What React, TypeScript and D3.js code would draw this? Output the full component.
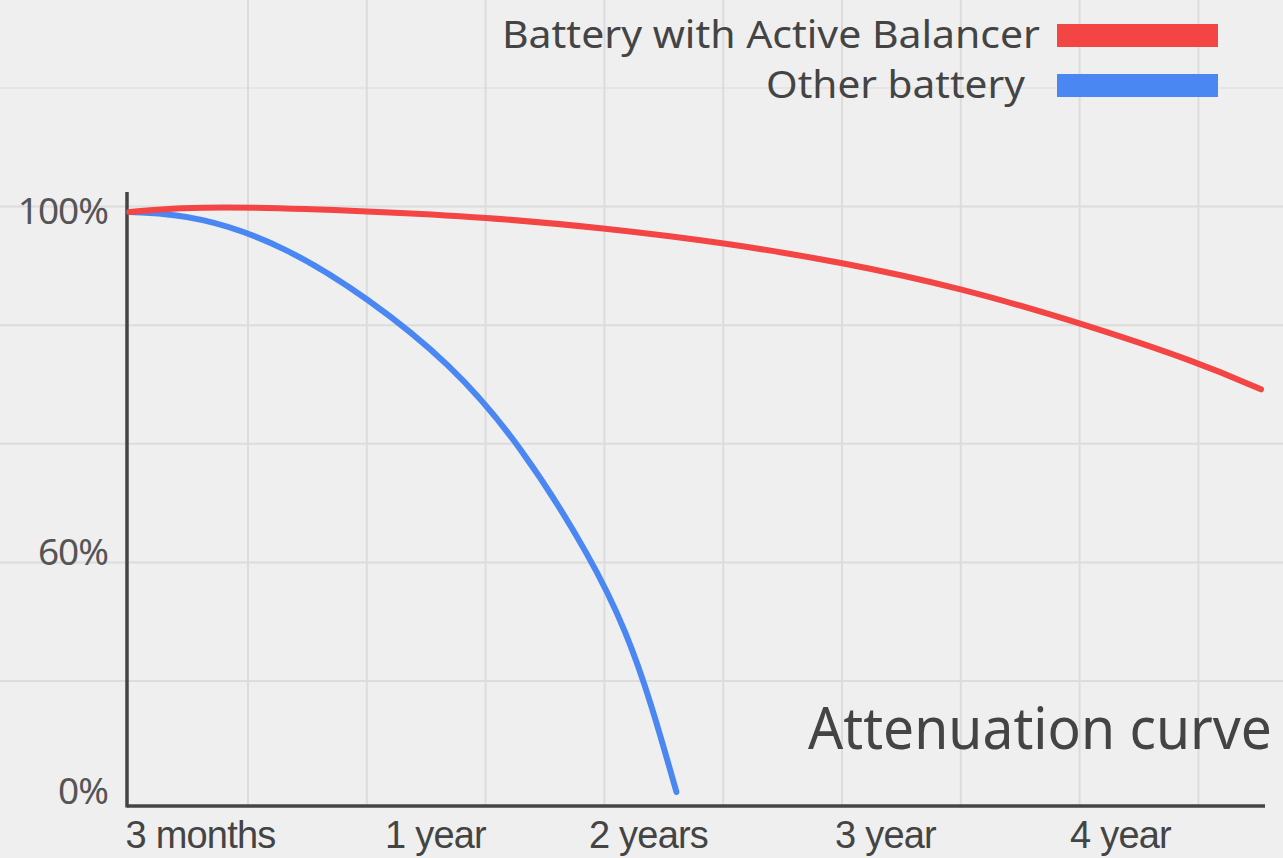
import React, { useRef, useEffect } from 'react';
import * as d3 from 'd3';

const xLabels = ['3 months', '1 year', '2 years', '3 year', '4 year'];
const yTicks = [0, 60, 100];
const seriesNames = ['Battery with Active Balancer', 'Other battery'];
const seriesColors = ['#f44545', '#4a87f2'];

// x = position on the time axis in label steps (0 = 3 months, 1 = 1 year, ...)
const balancerX = [-0.3, -0.09, 0.2, 0.71, 1.24, 1.8, 2.32, 2.82, 3.32, 3.83, 4.34, 4.6];
const balancerY = [100, 100.5, 100.6, 100.1, 99.4, 98.1, 96.4, 94.1, 91.1, 87.0, 82.3, 79.2];
const otherX = [-0.3, 0, 0.37, 0.71, 1.07, 1.4, 1.74, 1.9, 2.01, 2.12];
const otherY = [100, 99.6, 95.9, 90.0, 82.3, 72.8, 58.2, 40, 23, 0];

// squeeze a text horizontally so it is `w` px wide, anchored at its left or right edge
const fitText = (sel: any, left: number, baseline: number, w: number, anchorEnd: boolean) => {
	const natural = sel.node().getComputedTextLength() || w
	const k = w / natural
	const tx = anchorEnd ? left - w : left
	sel.attr('text-anchor', 'start')
		.attr('transform', 'translate(' + tx + ',' + baseline + ') scale(' + k + ',1)')
}

const App = () => {
	const chart = useRef<SVGSVGElement>(null)

	useEffect(() => {
		const width = 1283
		const height = 858
		const svg = d3.select(chart.current)
		svg.selectAll('*').remove()

		svg.append('rect')
			.attr('width', width)
			.attr('height', height)
			.attr('fill', '#efefef')

		// the picture stretches the axes, so both scales are piecewise
		const x = d3.scaleLinear()
			.domain([0, 1, 2, 3, 4])
			.range([200, 435, 648, 885, 1120])
		const y = d3.scaleLinear()
			.domain([0, 60, 100])
			.range([792, 553, 212])

		const axisX = 127
		const axisY = 806

		// background grid
		const grid = svg.append('g')
			.attr('stroke', '#dcdcdc')
			.attr('stroke-width', 2)
		d3.range(248, width, 118.8).forEach(gx => {
			grid.append('line')
				.attr('x1', gx).attr('x2', gx)
				.attr('y1', 0).attr('y2', axisY)
		})
		d3.range(88, axisY - 20, 118.6).forEach(gy => {
			grid.append('line')
				.attr('x1', 0).attr('x2', width)
				.attr('y1', gy).attr('y2', gy)
				.attr('opacity', gy < 150 ? 0.5 : 1)
		})

		// x labels
		const xAxis = svg.append('g')
			.attr('transform', 'translate(0,' + axisY + ')')
			.call(d3.axisBottom(x)
				.tickValues(d3.range(xLabels.length))
				.tickFormat((i: any) => xLabels[i])
				.tickSize(0)
				.tickPadding(15))
		xAxis.select('.domain').remove()
		xAxis.selectAll('text')
			.attr('font-family', '"Liberation Sans", Arial, sans-serif')
			.attr('font-size', 38)
			.attr('letter-spacing', -0.8)
			.attr('fill', '#444')

		// y labels
		const yAxis = svg.append('g')
			.attr('transform', 'translate(' + axisX + ',0)')
			.call(d3.axisLeft(y)
				.tickValues(yTicks)
				.tickFormat((d: any) => d + '%')
				.tickSize(0)
				.tickPadding(19))
		yAxis.select('.domain').remove()
		yAxis.selectAll('text')
			.attr('font-family', '"Noto Sans", sans-serif')
			.attr('font-size', 37)
			.attr('letter-spacing', -1)
			.attr('fill', '#555')

		// axis lines
		svg.append('line')
			.attr('x1', axisX).attr('x2', axisX)
			.attr('y1', 192).attr('y2', axisY + 1.5)
			.attr('stroke', '#444').attr('stroke-width', 3.5)
		svg.append('line')
			.attr('x1', axisX).attr('x2', 1265)
			.attr('y1', axisY).attr('y2', axisY)
			.attr('stroke', '#444').attr('stroke-width', 3.5)

		// curves
		const line = d3.line<[number, number]>()
			.x(d => x(d[0]))
			.y(d => y(d[1]))
			.curve(d3.curveBasis)

		const series = [
			balancerX.map((v, i) => [v, balancerY[i]] as [number, number]),
			otherX.map((v, i) => [v, otherY[i]] as [number, number]),
		]
		series.slice().reverse().forEach((s, k) => {
			const idx = series.length - 1 - k
			svg.append('path')
				.datum(s)
				.attr('fill', 'none')
				.attr('stroke', seriesColors[idx])
				.attr('stroke-width', 6)
				.attr('stroke-linecap', 'round')
				.attr('d', line)
		})

		// legend
		const legendWidths = [538, 259]
		const legendRight = [1040, 1025]
		seriesNames.forEach((name, i) => {
			const cy = 35 + i * 50
			const t = svg.append('text')
				.attr('font-family', '"Noto Sans", sans-serif')
				.attr('font-size', 38)
				.attr('fill', '#444')
				.text(name)
			fitText(t, legendRight[i], cy + 13, legendWidths[i], true)
			svg.append('rect')
				.attr('x', 1057)
				.attr('y', cy - 11)
				.attr('width', 161)
				.attr('height', 23)
				.attr('fill', seriesColors[i])
		})

		// title
		const title = svg.append('text')
			.attr('font-family', '"Noto Sans", sans-serif')
			.attr('font-size', 58)
			.attr('fill', '#444')
			.text('Attenuation curve')
		fitText(title, 808, 749, 464, false)
	}, [])

	return (
		<div>
			<svg ref={chart} width={1283} height={858}
				style={{ position: 'absolute', left: 0, top: 0 }}></svg>
		</div>
	)
}

export default App;
